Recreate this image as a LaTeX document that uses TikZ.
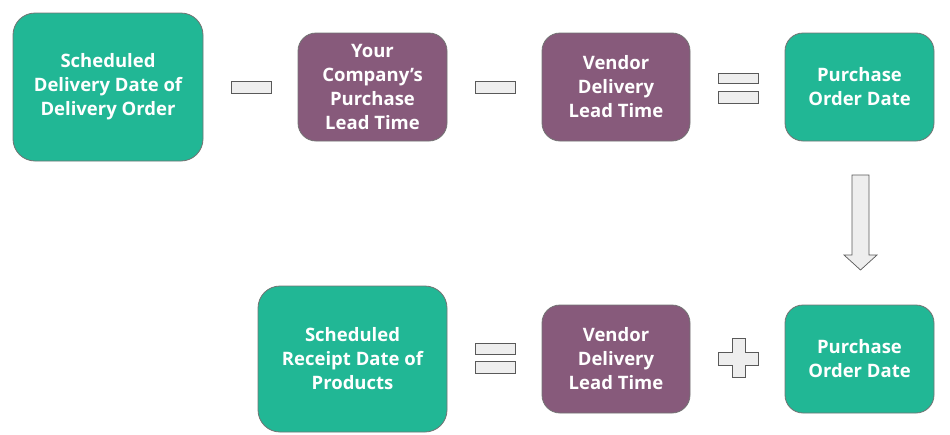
\documentclass[tikz,border=0pt]{standalone}
\usepackage{fontspec}
\setmainfont{Open Sans}
\definecolor{tealbox}{HTML}{21B795}
\definecolor{plumbox}{HTML}{875A7B}
\definecolor{opfill}{HTML}{EEEEEE}
\tikzset{
    datebox/.style = {draw=black!55, line width=0.8pt, fill=tealbox, rounded corners=22pt,
        text=white, align=center, font=\bfseries\fontsize{18.5}{24}\selectfont, inner sep=0pt,
        execute at begin node=\rule{0pt}{18pt}},
    timebox/.style = {datebox, fill=plumbox, rounded corners=18pt},
    opbar/.style = {draw=black!65, line width=0.7pt, fill=opfill}
}
\begin{document}
\begin{tikzpicture}[x=1pt, y=-1pt]

    \useasboundingbox (0,0) rectangle (950,434);

    % Top row:
    \node[datebox, minimum width=190pt, minimum height=148pt] (sdd) at (108,87)
        {Scheduled\\Delivery Date of\\Delivery Order};
    \node[timebox, minimum width=149pt, minimum height=108pt] (plt) at (372.5,87)
        {Your\\Company’s\\Purchase\\Lead Time};
    \node[timebox, minimum width=148pt, minimum height=108pt] (vlt) at (616,87)
        {Vendor\\Delivery\\Lead Time};
    \node[datebox, minimum width=149pt, minimum height=108pt, rounded corners=18pt] (pod) at (859.5,87)
        {Purchase\\Order Date};

    % Operators, top row:
    \draw[opbar] (231,81) rectangle (271,93);
    \draw[opbar] (475,81) rectangle (515,93);
    \draw[opbar] (718,73) rectangle (758,83);
    \draw[opbar] (718,91) rectangle (758,103);

    % Bottom row:
    \node[datebox, minimum width=189pt, minimum height=146pt] (srd) at (352.5,359)
        {Scheduled\\Receipt Date of\\Products};
    \node[timebox, minimum width=148pt, minimum height=108pt] (vlt2) at (616,359)
        {Vendor\\Delivery\\Lead Time};
    \node[datebox, minimum width=149pt, minimum height=108pt, rounded corners=18pt] (pod2) at (859.5,359)
        {Purchase\\Order Date};

    % Operators, bottom row:
    \draw[opbar] (475,343) rectangle (515,354);
    \draw[opbar] (475,361) rectangle (515,373);
    \draw[opbar] (732,338) -- (745,338) -- (745,352) -- (758,352) -- (758,365) -- (745,365)
        -- (745,377) -- (732,377) -- (732,365) -- (718,365) -- (718,352) -- (732,352) -- cycle;

    % Block arrow:
    \draw[opbar] (852,175) -- (869,175) -- (869,255) -- (877,255) -- (860.5,270)
        -- (844,255) -- (852,255) -- cycle;

\end{tikzpicture}
\end{document}
